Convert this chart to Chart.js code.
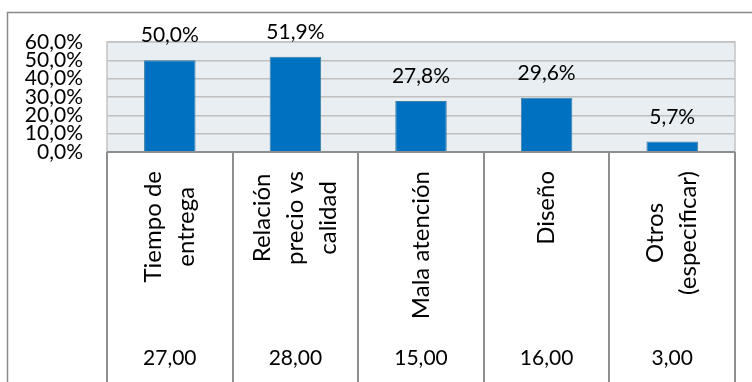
<!DOCTYPE html>
<html>
<head>
<meta charset="utf-8">
<script src="https://cdn.jsdelivr.net/npm/chart.js@4/dist/chart.umd.min.js"></script>
<style>
  html, body { margin: 0; padding: 0; background: #fff; }
  canvas { display: block; }
</style>
</head>
<body>
<canvas id="bar" width="752" height="382"></canvas>
<script>
// motivos, porcentaje y cantidad de respuestas
const categorias = [
  ["Tiempo de", "entrega"],
  ["Relación", "precio vs", "calidad"],
  ["Mala atención"],
  ["Diseño"],
  ["Otros", "(especificar)"]
];
const porcentajes = [50.0, 51.9, 27.8, 29.6, 5.7];
const cantidades = [27, 28, 15, 16, 3];
const ejeMax = 60;
const ejePaso = 10;

const fuente = "Lato";
const coma = (v, d) => v.toFixed(d).replace(".", ",");

// marco, fondo del area de grafico y tabla de datos debajo
const tabla = {
  id: "tabla",
  beforeDraw(chart) {
    const ctx = chart.ctx;
    const a = chart.chartArea;
    ctx.save();
    ctx.fillStyle = "#e8eef2";
    ctx.fillRect(a.left, a.top, a.right - a.left, a.bottom - a.top);
    ctx.strokeStyle = "#8a8a8a";
    ctx.lineWidth = 1.5;
    ctx.beginPath();
    ctx.moveTo(7.5, chart.height);
    ctx.lineTo(7.5, 12.5);
    ctx.lineTo(chart.width, 12.5);
    ctx.stroke();
    ctx.restore();
  },
  afterDraw(chart) {
    const ctx = chart.ctx;
    const a = chart.chartArea;
    const x = chart.scales.x;
    const paso = (a.right - a.left) / categorias.length;
    ctx.save();
    // bordes del area de grafico
    ctx.strokeStyle = "#c4c4c4";
    ctx.lineWidth = 1.5;
    ctx.beginPath();
    ctx.moveTo(a.left, a.bottom);
    ctx.lineTo(a.left, a.top);
    ctx.lineTo(a.right, a.top);
    ctx.lineTo(a.right, a.bottom);
    ctx.stroke();
    // eje y lineas de la tabla
    ctx.strokeStyle = "#8e8e8e";
    ctx.lineWidth = 2;
    ctx.beginPath();
    ctx.moveTo(a.left, a.bottom);
    ctx.lineTo(a.right, a.bottom);
    for (let i = 0; i <= categorias.length; i++) {
      const px = Math.round(a.left + i * paso);
      ctx.moveTo(px, a.bottom);
      ctx.lineTo(px, chart.height);
    }
    ctx.stroke();

    ctx.fillStyle = "#000";
    categorias.forEach((lineas, i) => {
      const cx = x.getPixelForValue(i);
      // texto girado, alineado arriba y lineas centradas entre si
      ctx.font = "24px " + fuente;
      const largo = Math.max(...lineas.map(l => ctx.measureText(l).width));
      const alto = 33;
      ctx.save();
      ctx.translate(cx, 171 + largo / 2);
      ctx.rotate(-Math.PI / 2);
      ctx.textAlign = "center";
      ctx.textBaseline = "middle";
      lineas.forEach((l, j) => {
        ctx.fillText(l, 0, (j - (lineas.length - 1) / 2) * alto);
      });
      ctx.restore();
      // cantidad
      ctx.font = "21px " + fuente;
      ctx.textAlign = "center";
      ctx.textBaseline = "middle";
      ctx.fillText(coma(cantidades[i], 2), cx, 358.5);
    });

    // etiquetas de valor sobre cada barra
    const meta = chart.getDatasetMeta(0);
    ctx.font = "21px " + fuente;
    ctx.textBaseline = "alphabetic";
    meta.data.forEach((bar, i) => {
      ctx.fillText(coma(porcentajes[i], 1) + "%", bar.x, bar.y - 18);
    });
    ctx.restore();
  }
};

new Chart(document.getElementById("bar"), {
  type: "bar",
  data: {
    labels: categorias.map(c => c.join(" ")),
    datasets: [{
      data: porcentajes,
      backgroundColor: "#0070c0",
      borderColor: "#3d7fa4",
      borderWidth: 1,
      categoryPercentage: 1,
      barPercentage: 0.41
    }]
  },
  options: {
    responsive: false,
    animation: false,
    events: [],
    layout: { padding: { top: 42, right: 17, left: 0, bottom: 0 } },
    plugins: {
      legend: { display: false },
      tooltip: { enabled: false }
    },
    scales: {
      x: {
        grid: { display: false },
        ticks: { display: false },
        border: { display: false },
        afterFit(s) { s.height = 230; }
      },
      y: {
        min: 0,
        max: ejeMax,
        grid: { color: "#c0c0c0", lineWidth: 1.5, drawTicks: false },
        border: { display: false },
        ticks: {
          stepSize: ejePaso,
          autoSkip: false,
          padding: 24,
          color: "#000",
          font: { family: fuente, size: 21 },
          callback: v => coma(v, 1) + "%"
        },
        afterFit(s) { s.width = 107; }
      }
    }
  },
  plugins: [tabla]
});
</script>
</body>
</html>
